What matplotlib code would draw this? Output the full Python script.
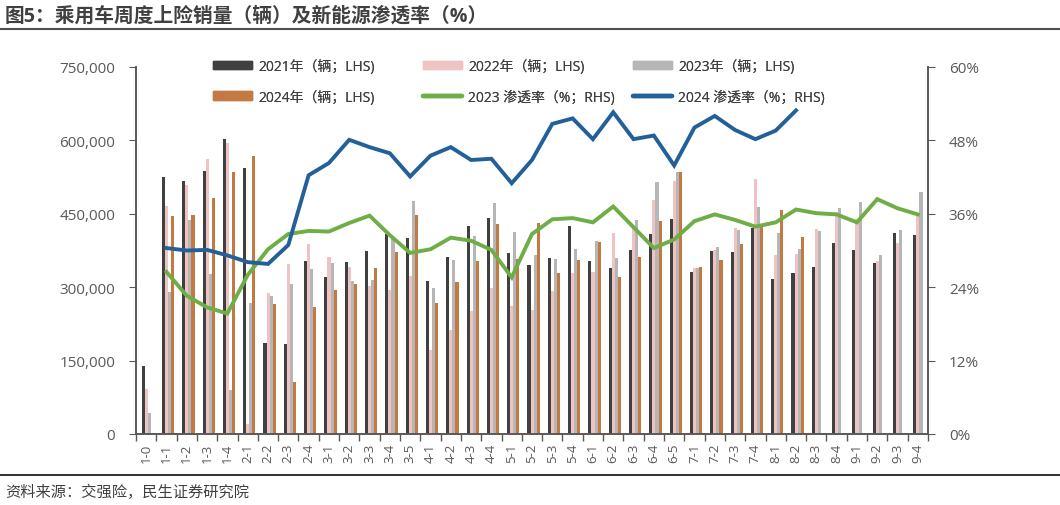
import numpy as np
import matplotlib
matplotlib.use("Agg")
import matplotlib.pyplot as plt
from matplotlib.lines import Line2D
from matplotlib.patches import Patch
from matplotlib.ticker import FuncFormatter, MultipleLocator

# Latin text in a Segoe-like face, CJK falls back to Noto
plt.rcParams["font.family"] = ["Open Sans", "Noto Sans CJK SC", "DejaVu Sans"]

# ---- data ----
weeks = ["1-0", "1-1", "1-2", "1-3", "1-4", "2-1", "2-2", "2-3", "2-4",
         "3-1", "3-2", "3-3", "3-4", "3-5", "4-1", "4-2", "4-3", "4-4",
         "5-1", "5-2", "5-3", "5-4", "6-1", "6-2", "6-3", "6-4", "6-5",
         "7-1", "7-2", "7-3", "7-4", "8-1", "8-2", "8-3", "8-4",
         "9-1", "9-2", "9-3", "9-4"]
nan = np.nan
sales_2021 = [138500, 525000, 518000, 537000, 603000, 543000, 186000, 183000, 354000,
              320000, 351000, 374000, 409000, 401000, 312000, 361000, 426000, 442000,
              370000, 346000, 360000, 425000, 354000, 340000, 376000, 409000, 440000,
              332000, 373000, 372000, 422000, 316000, 328000, 341000, 391000,
              377000, 349000, 410000, 406000]
sales_2022 = [92000, 466000, 509000, 562000, 595000, 20000, 288000, 348000, 388000,
              362000, 342000, 303000, 295000, 322000, 172000, 213000, 252000, 299000,
              262000, 254000, 293000, 328000, 331000, 411000, 420000, 478000, 517000,
              339000, 377000, 422000, 521000, 366000, 368000, 418000, 453000,
              440000, 353000, 391000, 446000]
sales_2023 = [42000, 290000, 437000, 326000, 89000, 268000, 283000, 307000, 337000,
              350000, 313000, 315000, 399000, 476000, 299000, 355000, 405000, 473000,
              413000, 365000, 357000, 379000, 394000, 360000, 437000, 515000, 535000,
              340000, 383000, 416000, 464000, 410000, 379000, 414000, 462000,
              475000, 366000, 416000, 494000]
sales_2024 = [nan, 446000, 448000, 483000, 536000, 569000, 266000, 106000, 260000,
              294000, 307000, 340000, 372000, 448000, 268000, 310000, 353000, 430000,
              358000, 432000, 330000, 355000, 392000, 321000, 362000, 435000, 535000,
              341000, 355000, 388000, 425000, 458000, 403000, nan, nan,
              nan, nan, nan, nan]
pen_2023 = [nan, 26.5, 22.6, 20.7, 19.7, 26.0, 30.2, 32.7, 33.2,
            33.1, 34.5, 35.7, 32.5, 29.6, 30.2, 32.1, 31.6, 30.1,
            25.6, 32.7, 35.1, 35.3, 34.6, 37.2, 33.8, 30.4, 31.8,
            34.8, 35.9, 35.0, 33.9, 34.6, 36.7, 36.1, 35.9,
            34.6, 38.4, 36.9, 35.9]
pen_2024 = [nan, 30.4, 30.0, 30.1, 29.2, 28.1, 27.8, 30.9, 42.3,
            44.3, 48.1, 46.9, 45.9, 42.1, 45.5, 46.9, 44.8, 45.0,
            41.0, 44.8, 50.7, 51.6, 48.2, 52.6, 48.2, 48.8, 43.9,
            50.1, 52.0, 49.7, 48.2, 49.6, 52.9, nan, nan,
            nan, nan, nan, nan]

bar_series = [
    ("2021年（辆；LHS)", sales_2021, "#404040"),
    ("2022年（辆；LHS)", sales_2022, "#EEC3C3"),
    ("2023年（辆；LHS)", sales_2023, "#B6B6B6"),
    ("2024年（辆；LHS)", sales_2024, "#C27A42"),
]
GREEN = "#6FAD46"
BLUE = "#23609A"
TXT = "#404040"
TICK = "#595959"

fig = plt.figure(figsize=(10.6, 5.06), dpi=100)
ax = fig.add_axes([136 / 1060, 1 - 435 / 506, 792 / 1060, 367 / 506])
ax2 = ax.twinx()

x = np.arange(len(weeks))
bw = 0.152
for k, (label, vals, color) in enumerate(bar_series):
    ax.bar(x + (k - 1.5) * bw + 0.08, vals, width=bw, color=color, linewidth=0)

ax2.plot(x, pen_2023, color=GREEN, lw=2.8, solid_joinstyle="miter")
ax2.plot(x, pen_2024, color=BLUE, lw=2.8, solid_joinstyle="miter")

ax.set_xlim(-0.5, len(weeks) - 0.5)
ax.set_ylim(0, 750000)
ax2.set_ylim(0, 60)
ax.yaxis.set_major_locator(MultipleLocator(150000))
ax2.yaxis.set_major_locator(MultipleLocator(12))
ax.yaxis.set_major_formatter(FuncFormatter(lambda v, _: f"{v:,.0f}"))
ax2.yaxis.set_major_formatter(FuncFormatter(lambda v, _: f"{v:.0f}%"))

# category labels centred, tick marks on group boundaries
ax.set_xticks(x)
ax.set_xticklabels(weeks, rotation=90, fontsize=9.5, color=TICK)
ax.tick_params(axis="x", which="major", length=0, pad=6)
ax.set_xticks(np.arange(-0.5, len(weeks)), minor=True)
ax.tick_params(axis="x", which="minor", length=5, color=TICK, width=1)

ax.tick_params(axis="y", labelsize=11, labelcolor=TICK, color=TICK, length=5, pad=10)
ax2.tick_params(axis="y", labelsize=11, labelcolor=TICK, color=TICK, length=5, pad=10)

for a in (ax, ax2):
    a.spines["top"].set_visible(False)
    for s in ("left", "right", "bottom"):
        a.spines[s].set_color(TICK)
        a.spines[s].set_linewidth(1.2)

# legend as three columns placed like the original
col_x = [213, 423, 633]
col_entries = [
    [Patch(color=bar_series[0][2]), Patch(color=bar_series[3][2])],
    [Patch(color=bar_series[1][2]), Line2D([], [], color=GREEN, lw=3.2, solid_capstyle="round")],
    [Patch(color=bar_series[2][2]), Line2D([], [], color=BLUE, lw=3.2, solid_capstyle="round")],
]
col_labels = [
    [bar_series[0][0], bar_series[3][0]],
    [bar_series[1][0], "2023 渗透率（%；RHS)"],
    [bar_series[2][0], "2024 渗透率（%；RHS)"],
]
for cx, hs, ls in zip(col_x, col_entries, col_labels):
    leg = fig.legend(hs, ls, loc="upper left", bbox_to_anchor=(cx / 1060, 1 - 60 / 506),
                     frameon=False, fontsize=10, handlelength=2.8, handleheight=0.55,
                     handletextpad=0.45, labelspacing=1.12, borderpad=0, borderaxespad=0,
                     labelcolor=TXT)
    fig.add_artist(leg)

# title, rules and source line
fig.text(5 / 1060, 1 - 17 / 506, "图5：乘用车周度上险销量（辆）及新能源渗透率（%）",
         fontsize=14.2, fontweight="bold", color=TXT, ha="left", va="center")
fig.add_artist(Line2D([0, 1], [1 - 30 / 506] * 2, color="#505050", lw=1.5,
                      transform=fig.transFigure))
fig.add_artist(Line2D([0, 1], [1 - 476 / 506] * 2, color="#202020", lw=1.3,
                      transform=fig.transFigure))
fig.text(5 / 1060, 1 - 493 / 506, "资料来源：交强险，民生证券研究院",
         fontsize=11, color=TXT, ha="left", va="center")

fig.savefig("out.png", dpi=100)
